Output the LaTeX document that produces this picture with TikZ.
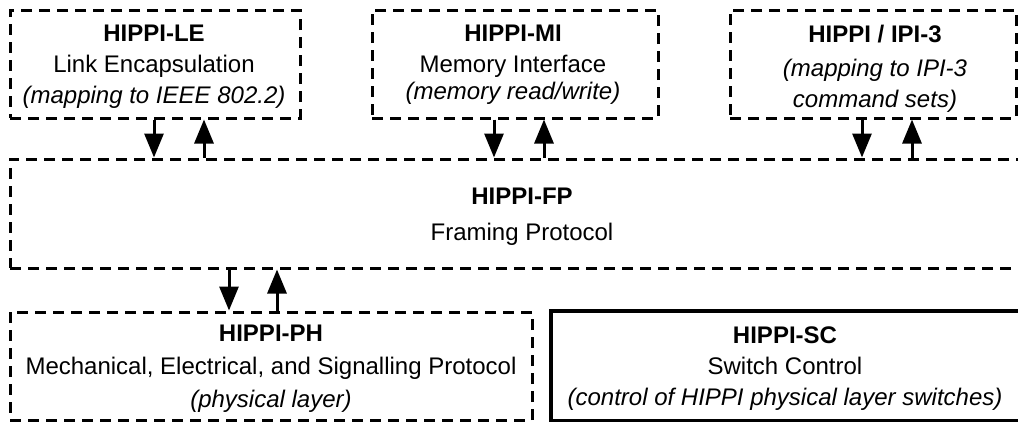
\documentclass[tikz,border=0pt]{standalone}
\usepackage{fontspec}
\setsansfont{Liberation Sans}
\usetikzlibrary{arrows.meta}

\tikzset{
  layerbox/.style={draw, line width=3pt, dash pattern=on 11pt off 7pt},
  ctrlbox/.style={draw, line width=4.5pt},
  boxtext/.style={align=center, inner sep=0pt, font=\sffamily\fontsize{24}{31}\selectfont},
  flow/.style={line width=3pt, -{Triangle[length=24pt,width=19pt]}}
}

\begin{document}
\begin{tikzpicture}[x=1pt, y=-1pt]
        \useasboundingbox (0,0) rectangle (1018,421);

        % Upper layer boxes
        \node[layerbox, minimum width=290pt, minimum height=108pt] (le) at (155,64) {};
        \node[layerbox, minimum width=286pt, minimum height=108pt] (mi) at (515,64) {};
        \node[layerbox, minimum width=286pt, minimum height=108pt] (ipi) at (873,64) {};

        \node[boxtext] (letxt) at (154,67) {\textbf{HIPPI-LE}\\Link Encapsulation\\\textit{(mapping to IEEE 802.2)}};
        \node[boxtext] (mitxt) at (513,65) {\textbf{HIPPI-MI}\\Memory Interface\\[-4pt]\textit{(memory read/write)}};
        \node[boxtext] (ipitxt) at (875,69) {\textbf{HIPPI / IPI-3}\\[3pt]\textit{(mapping to IPI-3}\\\textit{command sets)}};

        % Framing Protocol
        \node[layerbox, minimum width=1030pt, minimum height=109pt] (fp) at (525,213.5) {};
        \node[boxtext] (fptxt) at (522,217) {\textbf{HIPPI-FP}\\[5pt]Framing Protocol};

        % Physical layer and switch control
        \node[layerbox, minimum width=522pt, minimum height=108pt] (ph) at (271,366) {};
        \node[ctrlbox, minimum width=470pt, minimum height=110pt] (sc) at (786,366) {};

        \node[boxtext] (phtxt) at (271,369) {\textbf{HIPPI-PH}\\[2pt]Mechanical, Electrical, and Signalling Protocol\\[2pt]\textit{(physical layer)}};
        \node[boxtext] (sctxt) at (785,369) {\textbf{HIPPI-SC}\\Switch Control\\\textit{(control of HIPPI physical layer switches)}};

        % Arrows between layers
        \draw[flow] ([xshift=-1pt]le.south) -- ([xshift=-1pt]le.south |- fp.north);
        \draw[flow] ([xshift=49pt]le.south |- fp.north) -- ([xshift=49pt]le.south);
        \draw[flow] ([xshift=-21pt]mi.south) -- ([xshift=-21pt]mi.south |- fp.north);
        \draw[flow] ([xshift=29pt]mi.south |- fp.north) -- ([xshift=29pt]mi.south);
        \draw[flow] ([xshift=-11pt]ipi.south) -- ([xshift=-11pt]ipi.south |- fp.north);
        \draw[flow] ([xshift=39pt]ipi.south |- fp.north) -- ([xshift=39pt]ipi.south);
        \draw[flow] ([xshift=-42pt]ph.north |- fp.south) -- ([xshift=-42pt]ph.north);
        \draw[flow] ([xshift=6pt]ph.north) -- ([xshift=6pt]ph.north |- fp.south);

    \end{tikzpicture}
\end{document}
